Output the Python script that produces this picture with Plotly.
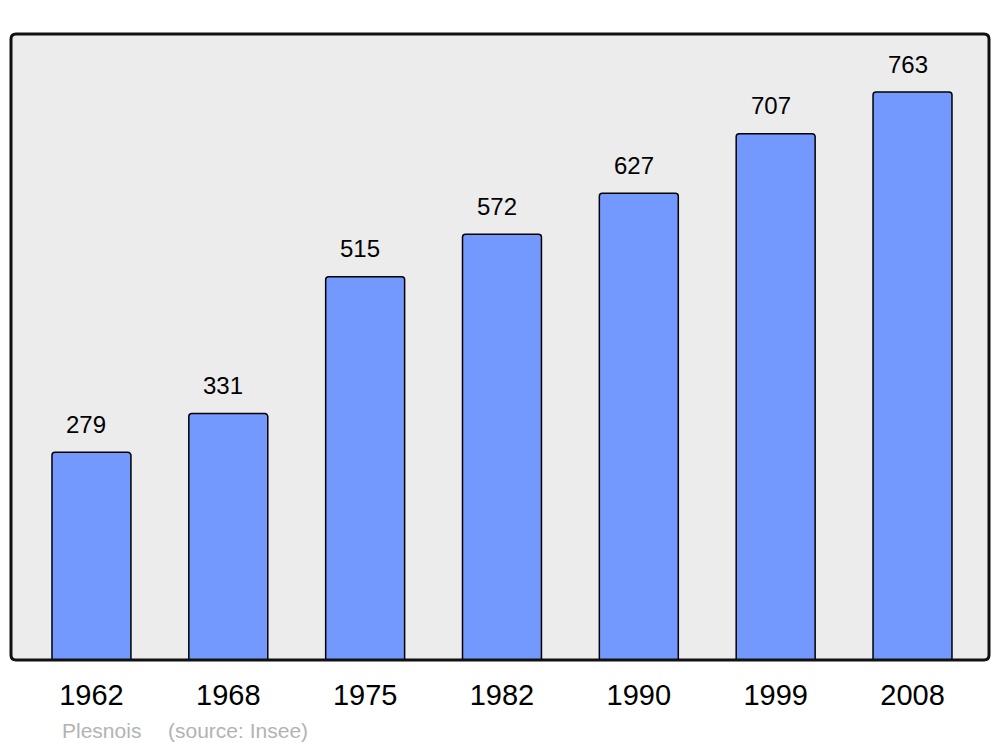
import plotly.graph_objects as go

years = ["1962", "1968", "1975", "1982", "1990", "1999", "2008"]
population = [279, 331, 515, 572, 627, 707, 763]
caption_name = "Plesnois"
caption_source = "(source: Insee)"

xpos = list(range(len(years)))
FONT = "Liberation Sans, Arial, sans-serif"

fig = go.Figure()
fig.add_trace(go.Bar(
    x=xpos, y=population, width=0.577,
    marker=dict(color="#7399ff", line=dict(color="#000000", width=1.5), cornerradius=3),
    hoverinfo="skip",
))

for xi, v in zip(xpos, population):
    fig.add_annotation(x=xi, y=v, text=str(v), showarrow=False, xref="x", yref="y",
                       yanchor="middle", yshift=28, xshift=-5,
                       font=dict(family=FONT, size=24, color="#000000"))

# rounded border around plot area (paper coords)
rx = 5 / 978
ry = 5 / 626
path = (f"M {rx},0 L {1-rx},0 Q 1,0 1,{ry} L 1,{1-ry} Q 1,1 {1-rx},1 "
        f"L {rx},1 Q 0,1 0,{1-ry} L 0,{ry} Q 0,0 {rx},0 Z")
fig.add_shape(type="path", path=path, xref="paper", yref="paper",
              line=dict(color="#111111", width=3), layer="above")

fig.add_annotation(text=caption_name, xref="paper", yref="paper",
                   x=(60 - 11) / 978, y=-(730 - 660) / 626, xanchor="left", yanchor="middle",
                   showarrow=False, font=dict(family=FONT, size=21, color="#b3b3b3"))
fig.add_annotation(text=caption_source, xref="paper", yref="paper",
                   x=(166 - 11) / 978, y=-(730 - 660) / 626, xanchor="left", yanchor="middle",
                   showarrow=False, font=dict(family=FONT, size=21, color="#b3b3b3"))

# page body has an 8px margin; compensate so the plot lands where the reference has it
fig.update_layout(
    width=992, height=739,
    margin=dict(l=3, r=11, t=26, b=87),
    paper_bgcolor="#ffffff", plot_bgcolor="#ececec",
    showlegend=False,
    xaxis=dict(range=[-0.588, 6.559], tickmode="array", tickvals=xpos, ticktext=years,
               showgrid=False, zeroline=False, ticks="outside", ticklen=9,
               tickcolor="rgba(0,0,0,0)", fixedrange=True,
               tickfont=dict(family=FONT, size=29, color="#000000")),
    yaxis=dict(range=[0, 841], showgrid=False, zeroline=False, showticklabels=False,
               fixedrange=True),
)

fig.write_html("out.html")
